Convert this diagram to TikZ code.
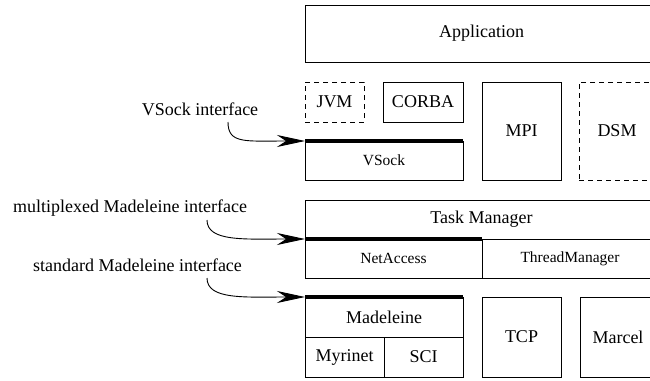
\documentclass[tikz,border=0pt]{standalone}
\usepackage{fontspec}
\setmainfont{Liberation Serif}
\usetikzlibrary{arrows.meta}
\begin{document}
\begin{tikzpicture}[x=1pt,y=-1pt,
 box/.style={draw, line width=0.9pt, inner sep=0pt, outer sep=0pt, font=\fontsize{18}{20}\selectfont},
 smallbox/.style={box, font=\fontsize{15.5}{17}\selectfont},
 dbox/.style={box, dash pattern=on 5pt off 4pt},
 lbl/.style={inner sep=0pt, font=\fontsize{18}{20}\selectfont, anchor=base},
 iface/.style={line width=4.5pt},
 arr/.style={line width=0.9pt, -{Stealth[length=28pt,width=12pt,inset=9pt]}}
]
\useasboundingbox (0,0) rectangle (650,380);
\clip (0,0) rectangle (650,380);
% boxes
\node[box, minimum width=353pt, minimum height=57pt] (app) at (481.5,33.5) {Application};
\node[dbox, minimum width=59pt, minimum height=40pt] (jvm) at (334.5,102) {JVM};
\node[box, minimum width=80pt, minimum height=40pt] (corba) at (423,102) {CORBA};
\node[smallbox, minimum width=158pt, minimum height=39pt] (vsock) at (384,160.5) {VSock};
\node[box, minimum width=79pt, minimum height=98pt] (mpi) at (521.5,131) {MPI};
\node[dbox, minimum width=76pt, minimum height=98pt] (dsm) at (617,131) {DSM};
\node[box, minimum width=353pt, minimum height=39pt] (task) at (481.5,219.5) {Task Manager};
\node[smallbox, minimum width=177pt, minimum height=39pt] (net) at (393.5,258.5) {NetAccess};
\node[smallbox, minimum width=176pt, minimum height=39pt] (thread) at (570,258.5) {ThreadManager};
\node[box, minimum width=158pt, minimum height=40pt] (mad) at (384,317) {Madeleine};
\node[box, minimum width=79pt, minimum height=40pt] (myr) at (344.5,357) {Myrinet};
\node[box, minimum width=79pt, minimum height=40pt] (sci) at (423.5,357) {SCI};
\node[box, minimum width=79pt, minimum height=80pt] (tcp) at (521.5,337) {TCP};
\node[box, minimum width=76pt, minimum height=80pt] (marcel) at (618,337) {Marcel};
% interfaces
\draw[iface] (vsock.north west) -- (vsock.north east);
\draw[iface] (net.north west) -- (net.north east);
\draw[iface] (mad.north west) -- (mad.north east);
% labels
\node[lbl] (l1) at (200,115) {VSock interface};
\node[lbl] (l2) at (130,212) {multiplexed Madeleine interface};
\node[lbl] (l3) at (137.5,271) {standard Madeleine interface};
\coordinate (s1) at (228,122);
\coordinate (s2) at (207,220);
\coordinate (s3) at (207,278);
\draw[arr] (s1) .. controls +(0,22) and +(-60,0) .. (vsock.north west);
\draw[arr] (s2) .. controls +(0,22) and +(-60,0) .. (net.north west);
\draw[arr] (s3) .. controls +(0,22) and +(-60,0) .. (mad.north west);
\end{tikzpicture}
\end{document}
